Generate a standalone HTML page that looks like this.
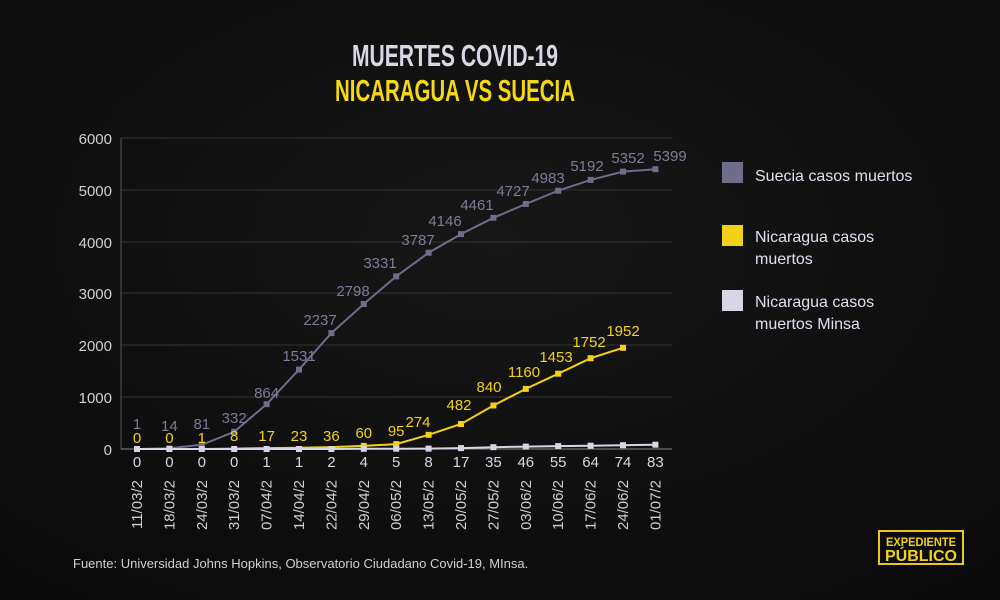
<!DOCTYPE html>
<html><head><meta charset="utf-8"><style>
html,body{margin:0;padding:0;background:#101010;}
svg{display:block}
text{font-family:"Liberation Sans",sans-serif;}
</style></head><body>
<svg width="1000" height="600" viewBox="0 0 1000 600" xmlns="http://www.w3.org/2000/svg">
<defs><radialGradient id="bg" cx="50%" cy="40%" r="75%"><stop offset="0" stop-color="#171717"/><stop offset="1" stop-color="#0a0a0a"/></radialGradient></defs>
<rect width="1000" height="600" fill="url(#bg)"/>
<text x="455" y="66" text-anchor="middle" font-size="31" font-weight="bold" fill="#d9d6e6" textLength="206" lengthAdjust="spacingAndGlyphs">MUERTES COVID-19</text>
<text x="455" y="101" text-anchor="middle" font-size="31" font-weight="bold" fill="#f5d915" textLength="240" lengthAdjust="spacingAndGlyphs">NICARAGUA VS SUECIA</text>
<g stroke="#333" stroke-width="1">
<line x1="121" y1="138" x2="672" y2="138"/><line x1="121" y1="190" x2="672" y2="190"/><line x1="121" y1="242" x2="672" y2="242"/><line x1="121" y1="293" x2="672" y2="293"/><line x1="121" y1="345" x2="672" y2="345"/><line x1="121" y1="397" x2="672" y2="397"/>
</g>
<line x1="121" y1="138" x2="121" y2="449" stroke="#555" stroke-width="1"/>
<line x1="121" y1="449" x2="672" y2="449" stroke="#888" stroke-width="1"/>
<g font-size="15" fill="#d0d0d0" text-anchor="end">
<text x="112" y="144">6000</text><text x="112" y="196">5000</text><text x="112" y="248">4000</text><text x="112" y="299">3000</text><text x="112" y="351">2000</text><text x="112" y="403">1000</text><text x="112" y="455">0</text>
</g>
<polyline fill="none" stroke="#6e6d8a" stroke-width="2" points="137,449 169.4,448.3 201.8,444.8 234.2,431.8 266.6,404.2 299,369.6 331.4,333.1 363.8,304 396.2,276.4 428.6,252.7 461,234.1 493.4,217.8 525.8,204 558.2,190.7 590.6,179.9 623,171.6 655.4,169.2"/>
<g fill="#6e6d8a"><rect x="134" y="446" width="6" height="6"/><rect x="166.4" y="445.3" width="6" height="6"/><rect x="198.8" y="441.8" width="6" height="6"/><rect x="231.2" y="428.8" width="6" height="6"/><rect x="263.6" y="401.2" width="6" height="6"/><rect x="296" y="366.6" width="6" height="6"/><rect x="328.4" y="330.1" width="6" height="6"/><rect x="360.8" y="301" width="6" height="6"/><rect x="393.2" y="273.4" width="6" height="6"/><rect x="425.6" y="249.7" width="6" height="6"/><rect x="458" y="231.1" width="6" height="6"/><rect x="490.4" y="214.8" width="6" height="6"/><rect x="522.8" y="201" width="6" height="6"/><rect x="555.2" y="187.7" width="6" height="6"/><rect x="587.6" y="176.9" width="6" height="6"/><rect x="620" y="168.6" width="6" height="6"/><rect x="652.4" y="166.2" width="6" height="6"/></g>
<polyline fill="none" stroke="#f2d216" stroke-width="2" points="137,449 169.4,449 201.8,449 234.2,448.6 266.6,448.1 299,447.8 331.4,447.1 363.8,445.9 396.2,444.1 428.6,434.8 461,424 493.4,405.5 525.8,388.9 558.2,373.7 590.6,358.2 623,347.8"/>
<g fill="#f2d216"><rect x="360.8" y="442.9" width="6" height="6"/><rect x="393.2" y="441.1" width="6" height="6"/><rect x="425.6" y="431.8" width="6" height="6"/><rect x="458" y="421" width="6" height="6"/><rect x="490.4" y="402.5" width="6" height="6"/><rect x="522.8" y="385.9" width="6" height="6"/><rect x="555.2" y="370.7" width="6" height="6"/><rect x="587.6" y="355.2" width="6" height="6"/><rect x="620" y="344.8" width="6" height="6"/></g>
<polyline fill="none" stroke="#d8d6e4" stroke-width="2" points="137,449 169.4,449 201.8,449 234.2,449 266.6,449 299,449 331.4,449 363.8,448.8 396.2,448.7 428.6,448.6 461,448.1 493.4,447.2 525.8,446.6 558.2,446.1 590.6,445.7 623,445.2 655.4,444.7"/>
<g fill="#d8d6e4"><rect x="134" y="446" width="6" height="6"/><rect x="166.4" y="446" width="6" height="6"/><rect x="198.8" y="446" width="6" height="6"/><rect x="231.2" y="446" width="6" height="6"/><rect x="263.6" y="446" width="6" height="6"/><rect x="296" y="446" width="6" height="6"/><rect x="328.4" y="446" width="6" height="6"/><rect x="360.8" y="445.8" width="6" height="6"/><rect x="393.2" y="445.7" width="6" height="6"/><rect x="425.6" y="445.6" width="6" height="6"/><rect x="458" y="445.1" width="6" height="6"/><rect x="490.4" y="444.2" width="6" height="6"/><rect x="522.8" y="443.6" width="6" height="6"/><rect x="555.2" y="443.1" width="6" height="6"/><rect x="587.6" y="442.7" width="6" height="6"/><rect x="620" y="442.2" width="6" height="6"/><rect x="652.4" y="441.7" width="6" height="6"/></g>
<g font-size="15" fill="#7d7c98" text-anchor="middle">
<text x="137" y="429">1</text><text x="169.4" y="431">14</text><text x="201.8" y="429">81</text><text x="234.2" y="423">332</text><text x="266.6" y="398">864</text><text x="299" y="361">1531</text><text x="320" y="325">2237</text><text x="353" y="296">2798</text><text x="380" y="268">3331</text><text x="418" y="245">3787</text><text x="445" y="226">4146</text><text x="477" y="210">4461</text><text x="513" y="196">4727</text><text x="548" y="183">4983</text><text x="587" y="171">5192</text><text x="628" y="163">5352</text><text x="670" y="161">5399</text>
</g>
<g font-size="15" fill="#f2d216" text-anchor="middle">
<text x="137" y="443">0</text><text x="169.4" y="443">0</text><text x="201.8" y="443">1</text><text x="234.2" y="441">8</text><text x="266.6" y="441">17</text><text x="299" y="441">23</text><text x="331.4" y="441">36</text><text x="363.8" y="438">60</text><text x="396.2" y="436">95</text><text x="418" y="427">274</text><text x="459" y="410">482</text><text x="489" y="392">840</text><text x="524" y="377">1160</text><text x="556" y="362">1453</text><text x="589" y="347">1752</text><text x="623" y="336">1952</text>
</g>
<g font-size="15" fill="#d8d6e4" text-anchor="middle">
<text x="137" y="467">0</text><text x="169.4" y="467">0</text><text x="201.8" y="467">0</text><text x="234.2" y="467">0</text><text x="266.6" y="467">1</text><text x="299" y="467">1</text><text x="331.4" y="467">2</text><text x="363.8" y="467">4</text><text x="396.2" y="467">5</text><text x="428.6" y="467">8</text><text x="461" y="467">17</text><text x="493.4" y="467">35</text><text x="525.8" y="467">46</text><text x="558.2" y="467">55</text><text x="590.6" y="467">64</text><text x="623" y="467">74</text><text x="655.4" y="467">83</text>
</g>
<g font-size="15" fill="#d0d0d0" text-anchor="end">
<text transform="translate(142,480) rotate(-90)">11/03/2</text><text transform="translate(174.4,480) rotate(-90)">18/03/2</text><text transform="translate(206.8,480) rotate(-90)">24/03/2</text><text transform="translate(239.2,480) rotate(-90)">31/03/2</text><text transform="translate(271.6,480) rotate(-90)">07/04/2</text><text transform="translate(304,480) rotate(-90)">14/04/2</text><text transform="translate(336.4,480) rotate(-90)">22/04/2</text><text transform="translate(368.8,480) rotate(-90)">29/04/2</text><text transform="translate(401.2,480) rotate(-90)">06/05/2</text><text transform="translate(433.6,480) rotate(-90)">13/05/2</text><text transform="translate(466,480) rotate(-90)">20/05/2</text><text transform="translate(498.4,480) rotate(-90)">27/05/2</text><text transform="translate(530.8,480) rotate(-90)">03/06/2</text><text transform="translate(563.2,480) rotate(-90)">10/06/2</text><text transform="translate(595.6,480) rotate(-90)">17/06/2</text><text transform="translate(628,480) rotate(-90)">24/06/2</text><text transform="translate(660.4,480) rotate(-90)">01/07/2</text>
</g>
<rect x="722" y="162" width="21" height="21" fill="#6e6d8a"/>
<rect x="722" y="225" width="21" height="21" fill="#f2d216"/>
<rect x="722" y="290" width="21" height="21" fill="#d8d6e4"/>
<g font-size="16" fill="#e0dff0">
<text x="755" y="181">Suecia casos muertos</text>
<text x="755" y="242">Nicaragua casos</text><text x="755" y="264">muertos</text>
<text x="755" y="307">Nicaragua casos</text><text x="755" y="329">muertos Minsa</text>
</g>
<text x="73" y="568" font-size="13" fill="#d0d0d0">Fuente: Universidad Johns Hopkins, Observatorio Ciudadano Covid-19, MInsa.</text>
<rect x="879" y="531" width="84" height="33" fill="none" stroke="#e8c81a" stroke-width="2"/>
<text x="921" y="546" text-anchor="middle" font-size="12" font-weight="bold" fill="#f2d216" textLength="70" lengthAdjust="spacingAndGlyphs">EXPEDIENTE</text>
<text x="921" y="561" text-anchor="middle" font-size="16" font-weight="bold" fill="#f2d216" textLength="72" lengthAdjust="spacingAndGlyphs">PÚBLICO</text>
</svg>
</body></html>
